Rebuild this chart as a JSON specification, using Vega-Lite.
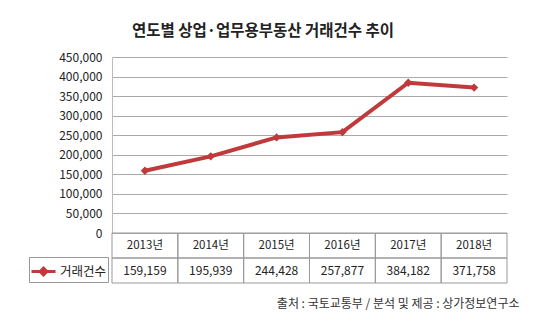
{
  "$schema": "https://vega.github.io/schema/vega-lite/v6.json",
  "background": "white",
  "padding": {"left": 28, "top": 23, "right": 10, "bottom": 6},
  "datasets": {
    "trade": [
      {"year": "2013년", "count": 159159, "series": "거래건수"},
      {"year": "2014년", "count": 195939, "series": "거래건수"},
      {"year": "2015년", "count": 244428, "series": "거래건수"},
      {"year": "2016년", "count": 257877, "series": "거래건수"},
      {"year": "2017년", "count": 384182, "series": "거래건수"},
      {"year": "2018년", "count": 371758, "series": "거래건수"}
    ]
  },
  "title": {
    "text": "연도별 상업·업무용부동산 거래건수 추이",
    "anchor": "middle",
    "dx": -11,
    "fontSize": 15.5,
    "fontWeight": "bold",
    "font": "Noto Sans CJK KR",
    "color": "#222222",
    "offset": 12
  },
  "vconcat": [
    {
      "width": 395,
      "height": 176,
      "data": {"name": "trade"},
      "mark": {"type": "line", "strokeWidth": 4, "color": "#c0393b", "point": {"shape": "diamond", "size": 70, "filled": true}},
      "encoding": {
        "x": {"field": "year", "type": "ordinal", "sort": null, "axis": null},
        "y": {
          "field": "count",
          "type": "quantitative",
          "scale": {"domain": [0, 450000]},
          "axis": {
            "title": null,
            "values": [0, 50000, 100000, 150000, 200000, 250000, 300000, 350000, 400000, 450000],
            "format": ",d",
            "ticks": false,
            "labelPadding": 10,
            "labelFont": "Noto Sans CJK KR",
            "labelFontSize": 12,
            "labelColor": "#222222",
            "gridColor": "#aaaaaa",
            "domainColor": "#bbbbbb"
          }
        },
        "color": {
          "field": "series",
          "type": "nominal",
          "scale": {"range": ["#c0393b"]},
          "legend": {
            "orient": "none",
            "legendX": -83,
            "legendY": 200,
            "title": null,
            "symbolType": "M-1,0L1,0M-0.28,0L0,-0.28L0.28,0L0,0.28Z",
            "symbolSize": 576,
            "symbolStrokeWidth": 3,
            "symbolFillColor": "#c0393b",
            "labelFont": "Noto Sans CJK KR",
            "labelFontSize": 12.5,
            "labelColor": "#222222",
            "labelOffset": 3,
            "padding": 1,
            "strokeColor": "#999999"
          }
        }
      }
    },
    {
      "width": 395,
      "height": 50,
      "data": {"name": "trade"},
      "title": {
        "text": "출처 : 국토교통부 / 분석 및 제공 : 상가정보연구소",
        "orient": "bottom",
        "anchor": "end",
        "dx": 12,
        "offset": 15,
        "font": "Noto Sans CJK KR",
        "fontSize": 12,
        "fontWeight": "normal",
        "color": "#333333"
      },
      "encoding": {
        "x": {"field": "year", "type": "ordinal", "sort": null, "axis": null, "scale": {"paddingInner": 0, "paddingOuter": 0}}
      },
      "layer": [
        {
          "mark": {"type": "rect", "fill": null, "stroke": "#999999", "strokeWidth": 1},
          "encoding": {"y": {"datum": "r1", "type": "ordinal", "axis": null, "scale": {"domain": ["r1", "r2"], "paddingInner": 0, "paddingOuter": 0}}}
        },
        {
          "mark": {"type": "rect", "fill": null, "stroke": "#999999", "strokeWidth": 1},
          "encoding": {"y": {"datum": "r2", "type": "ordinal"}}
        },
        {
          "mark": {"type": "text", "font": "Noto Sans CJK KR", "fontSize": 11.5, "color": "#222222"},
          "encoding": {"y": {"datum": "r1", "type": "ordinal"}, "text": {"field": "year"}}
        },
        {
          "mark": {"type": "text", "font": "Noto Sans CJK KR", "fontSize": 12, "color": "#222222"},
          "encoding": {"y": {"datum": "r2", "type": "ordinal"}, "text": {"field": "count", "format": ","}}
        }
      ]
    }
  ],
  "spacing": 0,
  "bounds": "flush",
  "config": {"view": {"stroke": null}}
}
